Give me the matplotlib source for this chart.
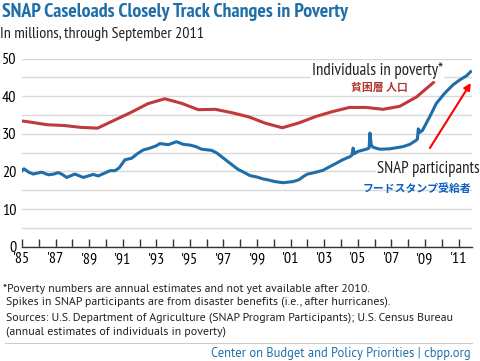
import matplotlib
matplotlib.use("Agg")
import matplotlib.pyplot as plt

# annual poverty estimates (millions), plotted at mid-year
pov_years = [1984, 1985, 1986, 1987, 1988, 1989, 1990, 1991, 1992, 1993, 1994,
             1995, 1996, 1997, 1998, 1999, 2000, 2001, 2002, 2003, 2004, 2005,
             2006, 2007, 2008, 2009]
pov_vals = [33.7, 33.1, 32.4, 32.2, 31.7, 31.5, 33.6, 35.7, 38.0, 39.3, 38.1,
            36.4, 36.5, 35.6, 34.5, 32.8, 31.6, 32.9, 34.6, 35.9, 37.0, 37.0,
            36.5, 37.3, 39.8, 43.6]

# SNAP participants (millions)
snap_t = [1985.0, 1985.12, 1985.4, 1985.67, 1986.17, 1986.57, 1986.9, 1987.16,
          1987.4, 1987.66, 1988.15, 1988.65, 1989.24, 1989.54, 1989.9, 1990.24,
          1990.54, 1990.8, 1991.13, 1991.53, 1991.9, 1992.22, 1992.62, 1993.0,
          1993.21, 1993.71, 1994.2, 1994.6, 1995.0, 1995.35, 1995.7, 1996.29,
          1996.6, 1996.89, 1997.38, 1997.88, 1998.2, 1998.57, 1999.0, 1999.36,
          1999.7, 2000.06, 2000.55, 2001.15, 2001.5, 2001.74, 2002.0, 2002.24,
          2002.6, 2002.93, 2003.3, 2003.73, 2004.1, 2004.52, 2004.65, 2004.72,
          2004.8, 2005.0, 2005.5, 2005.67, 2005.72, 2005.8, 2005.91, 2006.31,
          2006.9, 2007.3, 2007.7, 2008.1, 2008.45, 2008.55, 2008.6, 2008.7,
          2008.85, 2009.29, 2009.68, 2010.18, 2010.67, 2011.07, 2011.47, 2011.72]
snap_vals = [20.2, 20.7, 19.8, 19.3, 19.8, 19.1, 19.3, 19.7,
             19.2, 18.4, 19.3, 18.4, 19.2, 18.8, 19.5, 20.2,
             20.2, 21.0, 23.1, 23.5, 24.8, 25.7, 26.2, 26.8,
             27.4, 27.1, 27.9, 27.2, 27.0, 26.6, 25.9, 25.6,
             24.9, 23.9, 22.2, 20.5, 19.8, 18.9, 18.5, 18.0,
             17.7, 17.3, 17.0, 17.3, 17.8, 18.6, 19.3, 19.5,
             19.9, 20.3, 21.2, 22.2, 23.1, 23.9, 24.3, 26.2,
             24.7, 25.3, 25.9, 26.2, 30.2, 27.0, 26.4, 25.9,
             26.0, 26.3, 26.6, 27.2, 28.2, 28.6, 31.3, 30.4,
             30.9, 34.6, 38.1, 40.8, 43.0, 44.3, 45.4, 46.5]

tick_years = list(range(1985, 2012))
label_years = list(range(1985, 2012, 2))

BLUE = "#1f6ea8"
RED = "#c0393b"
NARROW = ["PT Sans Narrow", "DejaVu Sans"]
REG = ["PT Sans", "DejaVu Sans"]
JP = ["Noto Sans CJK JP", "DejaVu Sans"]

W, H = 481, 361
fig = plt.figure(figsize=(W / 100, H / 100), dpi=100)
ax = fig.add_axes([22 / W, 1 - 246.7 / H, 450 / W, 188.2 / H])

ax.plot([y + 0.5 for y in pov_years], pov_vals, color=RED, lw=2.2, zorder=3)
ax.plot(snap_t, snap_vals, color=BLUE, lw=2.2, zorder=3)

ax.set_xlim(1985, 2011.8)
ax.set_ylim(0, 50)
ax.set_yticks(range(0, 51, 10))
ax.set_yticks(range(0, 51, 5), minor=True)
ax.yaxis.grid(True, which="both", color="#d9d9d9", lw=1)
ax.set_axisbelow(True)
ax.tick_params(axis="y", which="both", length=0, pad=4, labelsize=11.5)
for lab in ax.get_yticklabels():
    lab.set_fontfamily(NARROW)

ax.set_xticks(tick_years)
ax.set_xticklabels(["'%02d" % (y % 100) if y in label_years else "" for y in tick_years])
ax.tick_params(axis="x", direction="in", length=6, width=1, color="#333333",
               pad=4, labelsize=11.5)
for lab in ax.get_xticklabels():
    lab.set_fontfamily(NARROW)

for s in ["top", "right", "left"]:
    ax.spines[s].set_visible(False)
ax.spines["bottom"].set_color("#333333")
ax.spines["bottom"].set_linewidth(1)


def px(x, y):
    return x / W, 1 - y / H


fig.text(*px(2, 12), "SNAP Caseloads Closely Track Changes in Poverty",
         color=BLUE, fontsize=14.3, fontweight="bold", family=NARROW, va="center")
fig.text(*px(0, 34), "In millions, through September 2011",
         color="#222222", fontsize=11.5, family=NARROW, va="center")

fig.text(*px(312, 71), "Individuals in poverty*", color="#222222", fontsize=12.2,
         family=NARROW, va="center",
         bbox=dict(facecolor="white", edgecolor="none", pad=1))
fig.text(*px(351, 88), "貧困層 人口", color="#b03434", fontsize=7.8,
         family=JP, fontweight="bold", va="center")
fig.text(*px(377, 169), "SNAP participants", color="#222222", fontsize=12,
         family=NARROW, va="center",
         bbox=dict(facecolor="white", edgecolor="none", pad=1))
fig.text(*px(363, 189), "フードスタンプ受給者", color="#1060c0", fontsize=7.8,
         family=JP, fontweight="bold", va="center")

ax.annotate("", xy=(2011.73, 43.5), xytext=(2009.29, 26.2),
            arrowprops=dict(arrowstyle="-|>", color="#ff0000", lw=1.5,
                            mutation_scale=10, shrinkA=0, shrinkB=0), zorder=4)

foot = "#222222"
fig.text(*px(3, 289), "*Poverty numbers are annual estimates and not yet available after 2010.",
         color=foot, fontsize=8.6, family=REG, va="center")
fig.text(*px(6, 302), "Spikes in SNAP participants are from disaster benefits (i.e., after hurricanes).",
         color=foot, fontsize=8.6, family=REG, va="center")
fig.text(*px(6, 318), "Sources: U.S. Department of Agriculture (SNAP Program Participants); U.S. Census Bureau",
         color=foot, fontsize=8.6, family=REG, va="center")
fig.text(*px(6, 332), "(annual estimates of individuals in poverty)",
         color=foot, fontsize=8.6, family=REG, va="center")
fig.add_artist(plt.Line2D([5 / W, 472 / W], [1 - 343 / H] * 2, color="#cccccc", lw=0.8))
fig.text(*px(471, 354), "Center on Budget and Policy Priorities | cbpp.org",
         color=BLUE, fontsize=9, family=REG, va="center", ha="right")

fig.savefig("out.png", dpi=100)
